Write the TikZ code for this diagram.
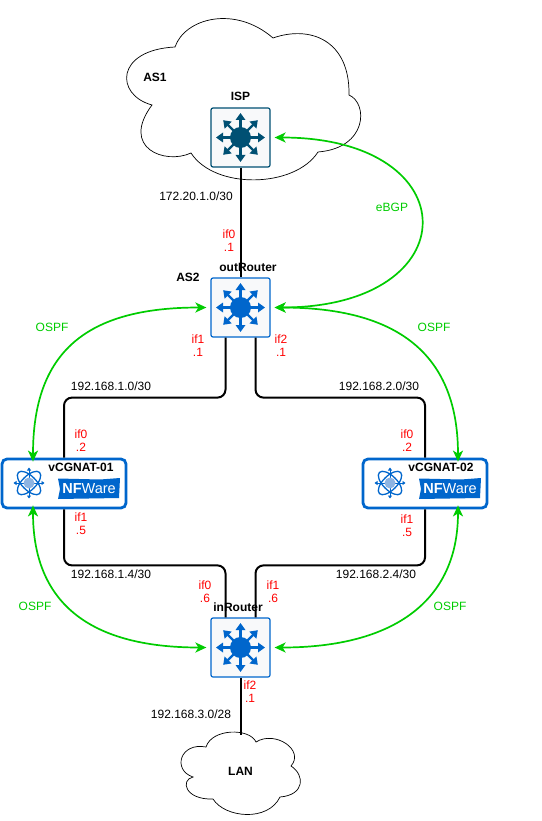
\documentclass[tikz,border=0pt]{standalone}
\usepackage{fontspec}
\setmainfont{Liberation Sans}
\usetikzlibrary{positioning,arrows.meta,calc}
\definecolor{rblue}{HTML}{0066CC}
\definecolor{ispblue}{HTML}{005073}
\definecolor{boxfill}{HTML}{F8F9FA}
\definecolor{lgreen}{HTML}{00CC00}
\definecolor{atomfill}{HTML}{8DB4E2}
\newcommand{\routericon}[2]{
  \foreach \a in {0,45,...,315}
    \draw[#2,line width=2.2pt,-{Triangle[length=7pt,width=9.5pt]}] (#1.center) -- +(\a:24.5);
  \fill[#2] (#1.center) circle (10.5pt);
}
\newcommand{\cgnaticon}[1]{
  \foreach \a in {45,-45}
    \draw[rblue,line width=1.3pt] (#1) ellipse[x radius=15pt,y radius=7pt,rotate=\a];
  \foreach \a in {0,90,180,270}
    \draw[rblue,line width=1pt,-{Triangle[length=3pt,width=4pt]}] (#1) -- +(\a:15.5);
  \fill[atomfill] (#1) circle (5.5pt);
}
\begin{document}
\begin{tikzpicture}[x=1pt,y=-1pt,font=\fontsize{12pt}{14pt}\selectfont,
  router/.style={draw=rblue,line width=1.2pt,fill=boxfill,rounded corners=2pt,minimum size=59pt,inner sep=0pt},
  cgnat/.style={draw=rblue,line width=2.8pt,fill=white,rounded corners=5pt,minimum width=124pt,minimum height=49pt,inner sep=0pt},
  lbl/.style={font=\fontsize{12pt}{14pt}\selectfont\bfseries,inner sep=0pt},
  txt/.style={inner sep=0pt},
  ifl/.style={text=red,inner sep=0pt},
  grn/.style={text=lgreen,inner sep=0pt},
  link/.style={draw=black,line width=2pt,rounded corners=8pt},
  proto/.style={draw=lgreen,line width=1.7pt,{Stealth[length=11pt,width=10pt,inset=3pt]}-{Stealth[length=11pt,width=10pt,inset=3pt]}},
  cloudline/.style={draw=black,line width=0.7pt,fill=white}]
  \useasboundingbox (0,0) rectangle (541,821);
  % clouds
  \draw[cloudline] (175,47) .. controls (185,18) and (235,5) .. (273,38)
    .. controls (310,25) and (350,40) .. (349,95)
    .. controls (368,103) and (368,148) .. (318,152)
    .. controls (295,188) and (215,190) .. (191,153)
    .. controls (165,165) and (120,148) .. (152,105)
    .. controls (115,95) and (115,50) .. (175,47) -- cycle;
  \draw[cloudline] (206,747) .. controls (212,728) and (250,728) .. (256,742)
    .. controls (275,730) and (305,750) .. (291,766)
    .. controls (305,775) and (305,795) .. (280,797)
    .. controls (268,822) and (225,818) .. (213,799)
    .. controls (185,800) and (180,780) .. (193,777)
    .. controls (172,770) and (180,742) .. (206,747) -- cycle;
  % devices
  \node[router,draw=ispblue] (isp) at (240.5,137.5) {};
  \node[router] (outr) at (240.5,307.5) {};
  \node[router] (inr) at (240.5,647.5) {};
  \node[cgnat] (cgA) at (64,483.5) {};
  \node[cgnat] (cgB) at (425,483.5) {};
  \node[lbl,minimum height=72pt] (lan) at (240.5,771) {LAN};
  \routericon{isp}{ispblue}
  \routericon{outr}{rblue}
  \routericon{inr}{rblue}
  \coordinate (atomA) at (29,483);
  \coordinate (atomB) at (390,483);
  \cgnaticon{atomA}
  \cgnaticon{atomB}
  % logos
  \fill[rblue] (58,478.5) -- (100,479.5) -- (120,478) -- (119,498) -- (58,499) -- (60,489) -- cycle;
  \fill[rblue] (419,478.5) -- (461,479.5) -- (481,478) -- (480,498) -- (419,499) -- (421,489) -- cycle;
  \node[txt,text=white,font=\fontsize{14.5pt}{16pt}\selectfont] (logoA) at (89,489) {\textbf{NF}Ware};
  \node[txt,text=white,font=\fontsize{14.5pt}{16pt}\selectfont] (logoB) at (450,489) {\textbf{NF}Ware};
  % links
  \draw[link] (isp) -- (outr);
  \draw[link] ([xshift=-15pt]outr.south) -- ++(0,60) -| (cgA.north);
  \draw[link] ([xshift=15pt]outr.south) -- ++(0,60) -| (cgB.north);
  \draw[link] (cgA.south) -- ++(0,56) -| ([xshift=-15pt]inr.north);
  \draw[link] (cgB.south) -- ++(0,56) -| ([xshift=15pt]inr.north);
  \draw[link] (inr) -- (lan);
  % protocol arrows
  \draw[proto] ([xshift=4pt]isp.east) .. controls +(195,0) and +(195,0) .. ([xshift=4pt]outr.east);
  \draw[proto] ([xshift=-4pt]outr.west) .. controls +(-120,0) and +(0,-110) .. ([xshift=-31pt,yshift=-4pt]cgA.north);
  \draw[proto] ([xshift=4pt]outr.east) .. controls +(120,0) and +(0,-110) .. ([xshift=33pt,yshift=-4pt]cgB.north);
  \draw[proto] ([xshift=-31pt,yshift=4pt]cgA.south) .. controls +(0,95) and +(-120,0) .. ([xshift=-4pt]inr.west);
  \draw[proto] ([xshift=33pt,yshift=4pt]cgB.south) .. controls +(0,95) and +(120,0) .. ([xshift=4pt]inr.east);
  % names
  \node[lbl] (asone) at (155,77) {AS1};
  \node[lbl,above=7pt of isp] (ispname) {ISP};
  \node[lbl] (astwo) at (188,277) {AS2};
  \node[lbl] (outname) at (248,267) {outRouter};
  \node[lbl] (inname) at (238,607) {inRouter};
  \node[lbl] (nameA) at (81,467) {vCGNAT-01};
  \node[lbl] (nameB) at (441,467) {vCGNAT-02};
  % subnets
  \node[txt] (netisp) at (196,196) {172.20.1.0/30};
  \node[txt] (netAup) at (111,386) {192.168.1.0/30};
  \node[txt] (netBup) at (379,386) {192.168.2.0/30};
  \node[txt] (netAdn) at (111,574) {192.168.1.4/30};
  \node[txt] (netBdn) at (376,574) {192.168.2.4/30};
  \node[txt] (netlan) at (191,714) {192.168.3.0/28};
  % protocols
  \node[grn] (bgp) at (392,207) {eBGP};
  \node[grn] (ospfa) at (52,327) {OSPF};
  \node[grn] (ospfb) at (434,327) {OSPF};
  \node[grn] (ospfc) at (35,606) {OSPF};
  \node[grn] (ospfd) at (450,606) {OSPF};
  % interfaces
  \node[ifl] (ia) at (229,234) {if0};
  \node[ifl,below=4pt of ia] (ib) {.1};
  \node[ifl] (ic) at (198,339) {if1};
  \node[ifl,below=4pt of ic] (id) {.1};
  \node[ifl] (ie) at (281,339) {if2};
  \node[ifl,below=4pt of ie] (ig) {.1};
  \node[ifl] (ih) at (81,434) {if0};
  \node[ifl,below=4pt of ih] (ii) {.2};
  \node[ifl] (ij) at (407,434) {if0};
  \node[ifl,below=4pt of ij] (ik) {.2};
  \node[ifl] (il) at (81,517) {if1};
  \node[ifl,below=4pt of il] (im) {.5};
  \node[ifl] (in) at (407,519) {if1};
  \node[ifl,below=4pt of in] (io) {.5};
  \node[ifl] (ip) at (205,585) {if0};
  \node[ifl,below=4pt of ip] (iq) {.6};
  \node[ifl] (ir) at (273,585) {if1};
  \node[ifl,below=4pt of ir] (is) {.6};
  \node[ifl] (it) at (250,685) {if2};
  \node[ifl,below=4pt of it] (iu) {.1};
\end{tikzpicture}
\end{document}
